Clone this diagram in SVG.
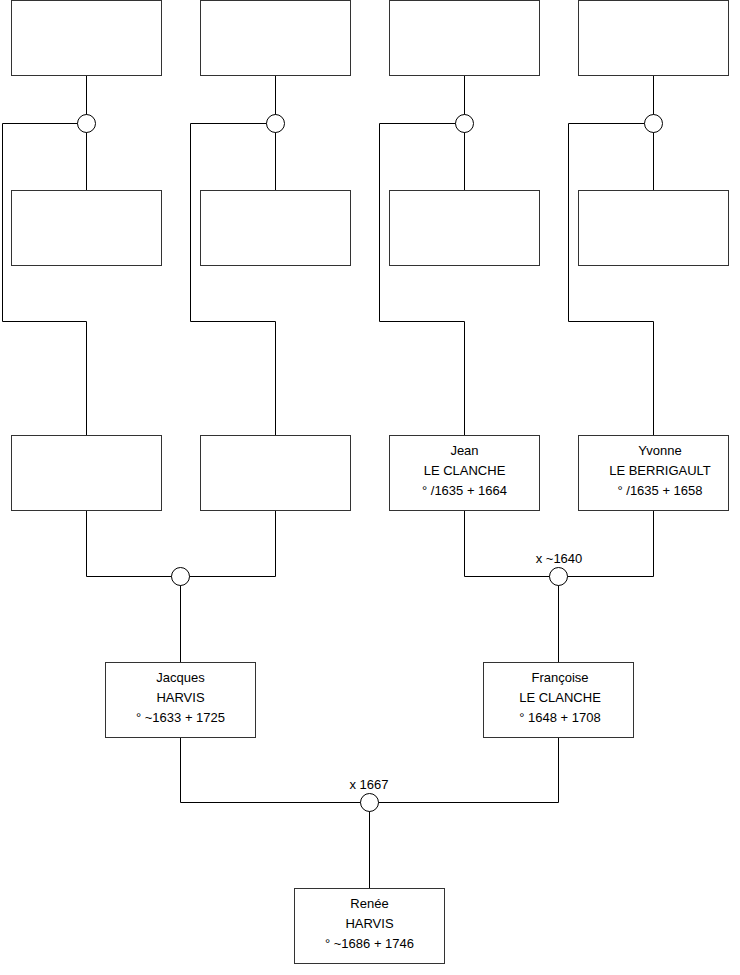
<svg xmlns="http://www.w3.org/2000/svg" width="740" height="975" viewBox="0 0 740 975">
<style>
.box{fill:#fff;stroke:#333;stroke-width:1}
.c{fill:none;stroke:#000;stroke-width:1}
.u{fill:#fff;stroke:#000;stroke-width:1}
text{font-family:"Liberation Sans",Arial,sans-serif;font-size:13px;fill:#000;text-anchor:middle}
</style>
<rect width="740" height="975" fill="#fff"/>
<g id="connectors">
<path class="c" d="M86.5 75.5V190M86.5 123.5H2.5V321.5H86.5V435.5"/>
<path class="c" d="M275.5 75.5V190M275.5 123.5H190.5V321.5H275.5V435.5"/>
<path class="c" d="M464.5 75.5V190M464.5 123.5H379.5V321.5H464.5V435.5"/>
<path class="c" d="M653.5 75.5V190M653.5 123.5H568.5V321.5H653.5V435.5"/>
<path class="c" d="M86.5 510.5V576.5H275.5V510.5M180.5 576.5V662"/>
<path class="c" d="M464.5 510.5V576.5H653.5V510.5M558.5 576.5V662"/>
<path class="c" d="M180.5 737.5V802.5H558.5V737.5M369.5 802.5V888"/>
</g>
<g id="u1"><circle class="u" cx="86.5" cy="123.5" r="9"/></g>
<g id="u2"><circle class="u" cx="275.5" cy="123.5" r="9"/></g>
<g id="u3"><circle class="u" cx="464.5" cy="123.5" r="9"/></g>
<g id="u4"><circle class="u" cx="653.5" cy="123.5" r="9"/></g>
<g id="u5"><circle class="u" cx="180.5" cy="576.5" r="9"/></g>
<g id="u6"><circle class="u" cx="558.5" cy="576.5" r="9"/><text x="559" y="563">x ~1640</text></g>
<g id="u7"><circle class="u" cx="369.5" cy="802.5" r="9"/><text x="369" y="789">x 1667</text></g>
<g id="n1"><rect class="box" x="11.5" y="0.5" width="150" height="75"/></g>
<g id="n2"><rect class="box" x="200.5" y="0.5" width="150" height="75"/></g>
<g id="n3"><rect class="box" x="389.5" y="0.5" width="150" height="75"/></g>
<g id="n4"><rect class="box" x="578.5" y="0.5" width="150" height="75"/></g>
<g id="n5"><rect class="box" x="11.5" y="190.5" width="150" height="75"/></g>
<g id="n6"><rect class="box" x="200.5" y="190.5" width="150" height="75"/></g>
<g id="n7"><rect class="box" x="389.5" y="190.5" width="150" height="75"/></g>
<g id="n8"><rect class="box" x="578.5" y="190.5" width="150" height="75"/></g>
<g id="n9"><rect class="box" x="11.5" y="435.5" width="150" height="75"/></g>
<g id="n10"><rect class="box" x="200.5" y="435.5" width="150" height="75"/></g>
<g id="n11"><rect class="box" x="389.5" y="435.5" width="150" height="75"/>
<text x="464.5" y="455">Jean</text><text x="464.5" y="475">LE CLANCHE</text><text x="464.5" y="495">° /1635 + 1664</text></g>
<g id="n12"><rect class="box" x="578.5" y="435.5" width="150" height="75"/>
<text x="660" y="455">Yvonne</text><text x="660" y="475">LE BERRIGAULT</text><text x="660" y="495">° /1635 + 1658</text></g>
<g id="n13"><rect class="box" x="105.5" y="662.5" width="150" height="75"/>
<text x="180.5" y="682">Jacques</text><text x="180.5" y="702">HARVIS</text><text x="180.5" y="722">° ~1633 + 1725</text></g>
<g id="n14"><rect class="box" x="483.5" y="662.5" width="150" height="75"/>
<text x="560" y="682">Françoise</text><text x="560" y="702">LE CLANCHE</text><text x="560" y="722">° 1648 + 1708</text></g>
<g id="n15"><rect class="box" x="294.5" y="888.5" width="150" height="75"/>
<text x="369.5" y="908">Renée</text><text x="369.5" y="928">HARVIS</text><text x="369.5" y="948">° ~1686 + 1746</text></g>
</svg>
